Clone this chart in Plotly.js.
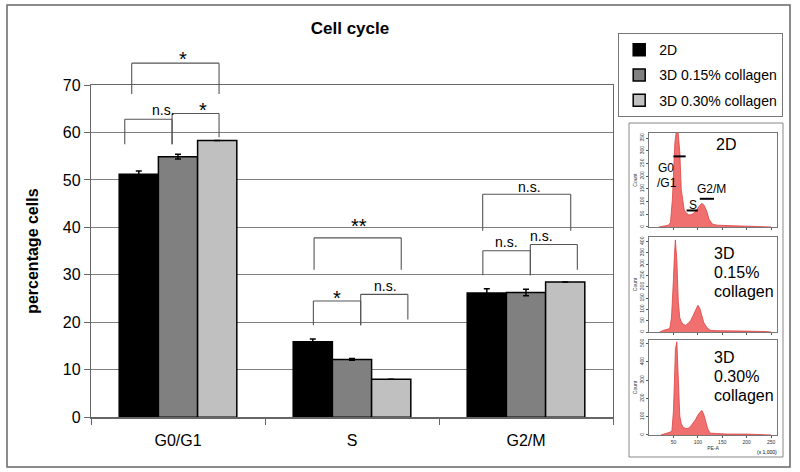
<!DOCTYPE html>
<html><head><meta charset="utf-8">
<script src="https://cdn.plot.ly/plotly-3.0.1.min.js"></script>
<style>html,body{margin:0;padding:0;background:#fff}#chart{width:800px;height:472px}</style>
</head><body><div id="chart"></div>
<script>
// ---------- data ----------
const phases = ['G0/G1', 'S', 'G2/M'];
const seriesNames = ['2D', '3D 0.15% collagen', '3D 0.30% collagen'];
const val2D  = [51.2, 15.9, 26.2];
const err2D  = [0.7, 0.6, 0.9];
const val015 = [54.9, 12.2, 26.3];
const err015 = [0.5, 0.2, 0.7];
const val030 = [58.3, 8.0, 28.5];
const err030 = [0, 0, 0];
const yTickVals = [0, 10, 20, 30, 40, 50, 60, 70];

// significance labels
const sigLabels = ['*', 'n.s.', '*', '**', '*', 'n.s.', 'n.s.', 'n.s.', 'n.s.'];
const sigPhase  = [0, 0, 0, 1, 1, 1, 2, 2, 2];

// flow cytometry histograms (PE-A x1000 vs count)
const hist2DX  = [20, 30, 40, 44, 48, 53, 58, 63, 66, 72, 76, 81, 86, 90, 94, 98, 101, 105, 108, 113, 118, 123, 130, 140, 160, 180, 200, 220, 240, 250];
const hist2DY  = [0, 4, 7, 18, 111, 333, 407, 296, 148, 67, 56, 48, 48, 52, 59, 67, 78, 89, 93, 85, 63, 30, 11, 7, 6, 4, 4, 3, 2, 0];
const hist015X = [22, 30, 40, 43, 46, 48, 50, 52, 54, 57, 60, 63, 66, 70, 75, 80, 85, 90, 95, 100, 104, 108, 112, 118, 125, 135, 160, 200, 240, 250];
const hist015Y = [0, 8, 13, 21, 63, 126, 231, 336, 407, 315, 134, 63, 46, 34, 29, 38, 50, 71, 97, 118, 105, 71, 42, 21, 8, 6, 4, 4, 2, 0];
const hist030X = [24, 35, 44, 47, 50, 52, 54, 57, 59, 61, 63, 66, 70, 75, 80, 85, 90, 95, 100, 105, 108, 112, 116, 120, 125, 135, 160, 200, 240, 250];
const hist030Y = [0, 10, 16, 26, 130, 286, 468, 510, 338, 182, 104, 62, 42, 36, 36, 47, 62, 83, 109, 130, 135, 114, 78, 36, 10, 8, 5, 5, 3, 0];
const histXTicks = [50, 100, 150, 200, 250];
// gate markers on the 2D histogram: [start, end, count level]
const gateNames = ['G0/G1', 'S', 'G2/M'];
const gateStart = [50, 77, 104];
const gateEnd   = [75, 100, 133];
const gateLevel = [278, 65, 111];

// ---------- layout helpers ----------
const W = 800, H = 472;
const px = x => x / W;
const py = y => (H - y) / H;
const FONT = 'Liberation Sans, Arial, sans-serif';
const PLOT_L = 91, PLOT_R = 613, PLOT_B = 417.3, PLOT_T = 85, YMAX = 70;
const catW = (PLOT_R - PLOT_L) / phases.length;
// data -> paper (so that marks above the axis range are not clipped)
const xP = (c, off) => px(PLOT_L + (c + 0.5 + off) * catW);
const yP = v => py(PLOT_B) + v / YMAX * (py(PLOT_T) - py(PLOT_B));

// bracket geometry (offsets from category centre, y in data units)
const brGeom = [
  {x1: -0.266, x2: 0.236, top: 74.6, l1: 68.1, l2: 68.1, tx: -0.007, ty: 76.7},
  {x1: -0.306, x2: -0.034, top: 62.8, l1: 57.5, l2: 57.5, tx: -0.16, ty: 64.7},
  {x1: -0.034, x2: 0.236, top: 64.0, l1: 57.5, l2: 59.0, tx: 0.107, ty: 66.0},
  {x1: -0.218, x2: 0.283, top: 37.8, l1: 31.1, l2: 31.1, tx: 0.04, ty: 41.6},
  {x1: -0.222, x2: 0.050, top: 24.5, l1: 19.4, l2: 19.4, tx: -0.087, ty: 26.5},
  {x1: 0.050, x2: 0.321, top: 25.9, l1: 19.4, l2: 20.6, tx: 0.19, ty: 27.6},
  {x1: -0.249, x2: 0.257, top: 47.0, l1: 39.3, l2: 39.3, tx: 0.02, ty: 48.6},
  {x1: -0.248, x2: 0.025, top: 35.1, l1: 29.9, l2: 29.9, tx: -0.11, ty: 36.9},
  {x1: 0.025, x2: 0.295, top: 36.4, l1: 29.9, l2: 31.1, tx: 0.167, ty: 38.2}
];

const colors = ['#000000', '#808080', '#c0c0c0'];
const vals = [val2D, val015, val030];
const errs = [err2D, err015, err030];

const traces = seriesNames.map((name, i) => ({
  type: 'bar', x: phases, y: vals[i], name: name,
  legendgroup: 'g' + i,
  marker: {color: colors[i], line: {color: '#000', width: 1.5}},
  error_y: {type: 'data', array: errs[i], visible: true, color: '#000', thickness: 1.5, width: 3},
  xaxis: 'x', yaxis: 'y'
}));

const histFill = 'rgba(238,96,96,0.9)';
const histLine = '#dd4040';
[[hist2DX, hist2DY, 2], [hist015X, hist015Y, 3], [hist030X, hist030Y, 4]].forEach(([hx, hy, k]) => {
  traces.push({
    type: 'scatter', mode: 'lines', x: hx, y: hy, fill: 'tozeroy',
    fillcolor: histFill, line: {color: histLine, width: 0.8},
    showlegend: false, xaxis: 'x' + k, yaxis: 'y' + k, hoverinfo: 'skip'
  });
});

const shapes = [];
const annotations = [];
const lineStyle = {color: '#555', width: 1.1};
brGeom.forEach((g, i) => {
  const c = sigPhase[i];
  const a = xP(c, g.x1), b = xP(c, g.x2);
  shapes.push({type: 'line', xref: 'paper', yref: 'paper', x0: a, x1: a, y0: yP(g.l1), y1: yP(g.top), line: lineStyle});
  shapes.push({type: 'line', xref: 'paper', yref: 'paper', x0: a, x1: b, y0: yP(g.top), y1: yP(g.top), line: lineStyle});
  shapes.push({type: 'line', xref: 'paper', yref: 'paper', x0: b, x1: b, y0: yP(g.top), y1: yP(g.l2), line: lineStyle});
  const star = sigLabels[i].indexOf('*') >= 0;
  annotations.push({
    xref: 'paper', yref: 'paper', x: xP(c, g.tx), y: yP(g.ty), text: sigLabels[i], showarrow: false,
    font: {family: FONT, size: star ? 20 : 14, color: '#000'}, yanchor: 'middle',
    yshift: star ? -6 : 0
  });
});

// gate markers
gateNames.forEach((n, i) => {
  shapes.push({type: 'line', xref: 'x2', yref: 'y2', x0: gateStart[i], x1: gateEnd[i], y0: gateLevel[i], y1: gateLevel[i], line: {color: '#000', width: 2}});
});

// outer border and histogram panel border
shapes.push({type: 'rect', xref: 'paper', yref: 'paper', x0: px(7), x1: px(790), y0: py(467), y1: py(5), line: {color: '#666', width: 1.5}, layer: 'below'});
shapes.push({type: 'rect', xref: 'paper', yref: 'paper', x0: px(629), x1: px(783), y0: py(457), y1: py(123), line: {color: '#888', width: 1}, layer: 'below'});

// histogram texts
const htxt = (x, y, t, s, anchor) => annotations.push({xref: 'paper', yref: 'paper', x: px(x), y: py(y), text: t, showarrow: false, xanchor: anchor || 'left', yanchor: 'middle', font: {family: FONT, size: s, color: '#000'}});
htxt(714, 145, '2D', 16);
htxt(656, 168, 'G0', 12);
htxt(655, 183, '/G1', 12);
htxt(687, 205, 'S', 12);
htxt(695, 189, 'G2/M', 12);
htxt(712, 253, '3D', 16);
htxt(712, 272, '0.15%', 16);
htxt(712, 291, 'collagen', 16);
htxt(712, 357, '3D', 16);
htxt(712, 376, '0.30%', 16);
htxt(712, 395, 'collagen', 16);
htxt(779, 452, '(x 1,000)', 5, 'right');

const histY = [[0.5191, 0.7182, 370, 50], [0.2966, 0.4979, 420, 50], [0.0784, 0.2797, 520, 100]];
const layout = {
  width: W, height: H,
  margin: {l: 0, r: 0, t: 0, b: 0},
  paper_bgcolor: '#fff', plot_bgcolor: '#fff',
  font: {family: FONT, color: '#000'},
  title: {text: '<b>Cell cycle</b>', x: px(350), xanchor: 'center', y: py(28), yanchor: 'middle', font: {family: FONT, size: 17, color: '#000'}},
  barmode: 'group', bargap: 0.324, bargroupgap: 0,
  showlegend: true,
  legend: {x: px(783), xanchor: 'right', y: py(33), yanchor: 'top', bgcolor: '#fff', bordercolor: '#777', borderwidth: 1.2,
           font: {family: FONT, size: 14, color: '#000'}, traceorder: 'grouped', tracegroupgap: 4},
  xaxis: {domain: [px(PLOT_L), px(PLOT_R)], type: 'category', tickson: 'boundaries', ticks: 'outside', ticklen: 6, tickcolor: '#666',
          showline: true, linecolor: '#666', linewidth: 1.2, mirror: true, showgrid: false, ticklabelstandoff: 8,
          tickfont: {family: FONT, size: 16, color: '#000'}, range: [-0.5, 2.5], fixedrange: true},
  yaxis: {domain: [py(PLOT_B), py(PLOT_T)], range: [0, YMAX], tickvals: yTickVals, ticks: 'outside', ticklen: 6, tickcolor: '#666',
          showline: true, linecolor: '#666', linewidth: 1.2, mirror: true, showgrid: true, gridcolor: '#808080', gridwidth: 1,
          zeroline: false, tickfont: {family: FONT, size: 16, color: '#000'},
          title: {text: '<b>percentage cells</b>', font: {family: FONT, size: 16, color: '#000'}, standoff: 20}},
  shapes: shapes, annotations: annotations
};
histY.forEach(([d0, d1, ymax, dt], j) => {
  const k = j + 2;
  layout['xaxis' + k] = {domain: [px(649), px(777)], anchor: 'y' + k, range: [0, 262], tickvals: histXTicks,
    ticks: 'outside', ticklen: 2, tickcolor: '#555', showline: true, linecolor: '#777', linewidth: 1, mirror: true,
    showgrid: false, zeroline: false, showticklabels: k === 4, tickfont: {size: 5, color: '#333'},
    title: k === 4 ? {text: 'PE-A', font: {size: 5, color: '#333'}, standoff: 1} : undefined};
  layout['yaxis' + k] = {domain: [d0, d1], anchor: 'x' + k, range: [0, ymax], dtick: dt, ticks: 'outside', ticklen: 2,
    tickcolor: '#555', showline: true, linecolor: '#777', linewidth: 1, mirror: true, showgrid: false, zeroline: false,
    tickfont: {size: 5, color: '#333'}, tickangle: -90,
    title: {text: 'Count', font: {size: 5, color: '#333'}, standoff: 1}};
});

Plotly.newPlot('chart', traces, layout, {staticPlot: true, displayModeBar: false});
</script></body></html>
